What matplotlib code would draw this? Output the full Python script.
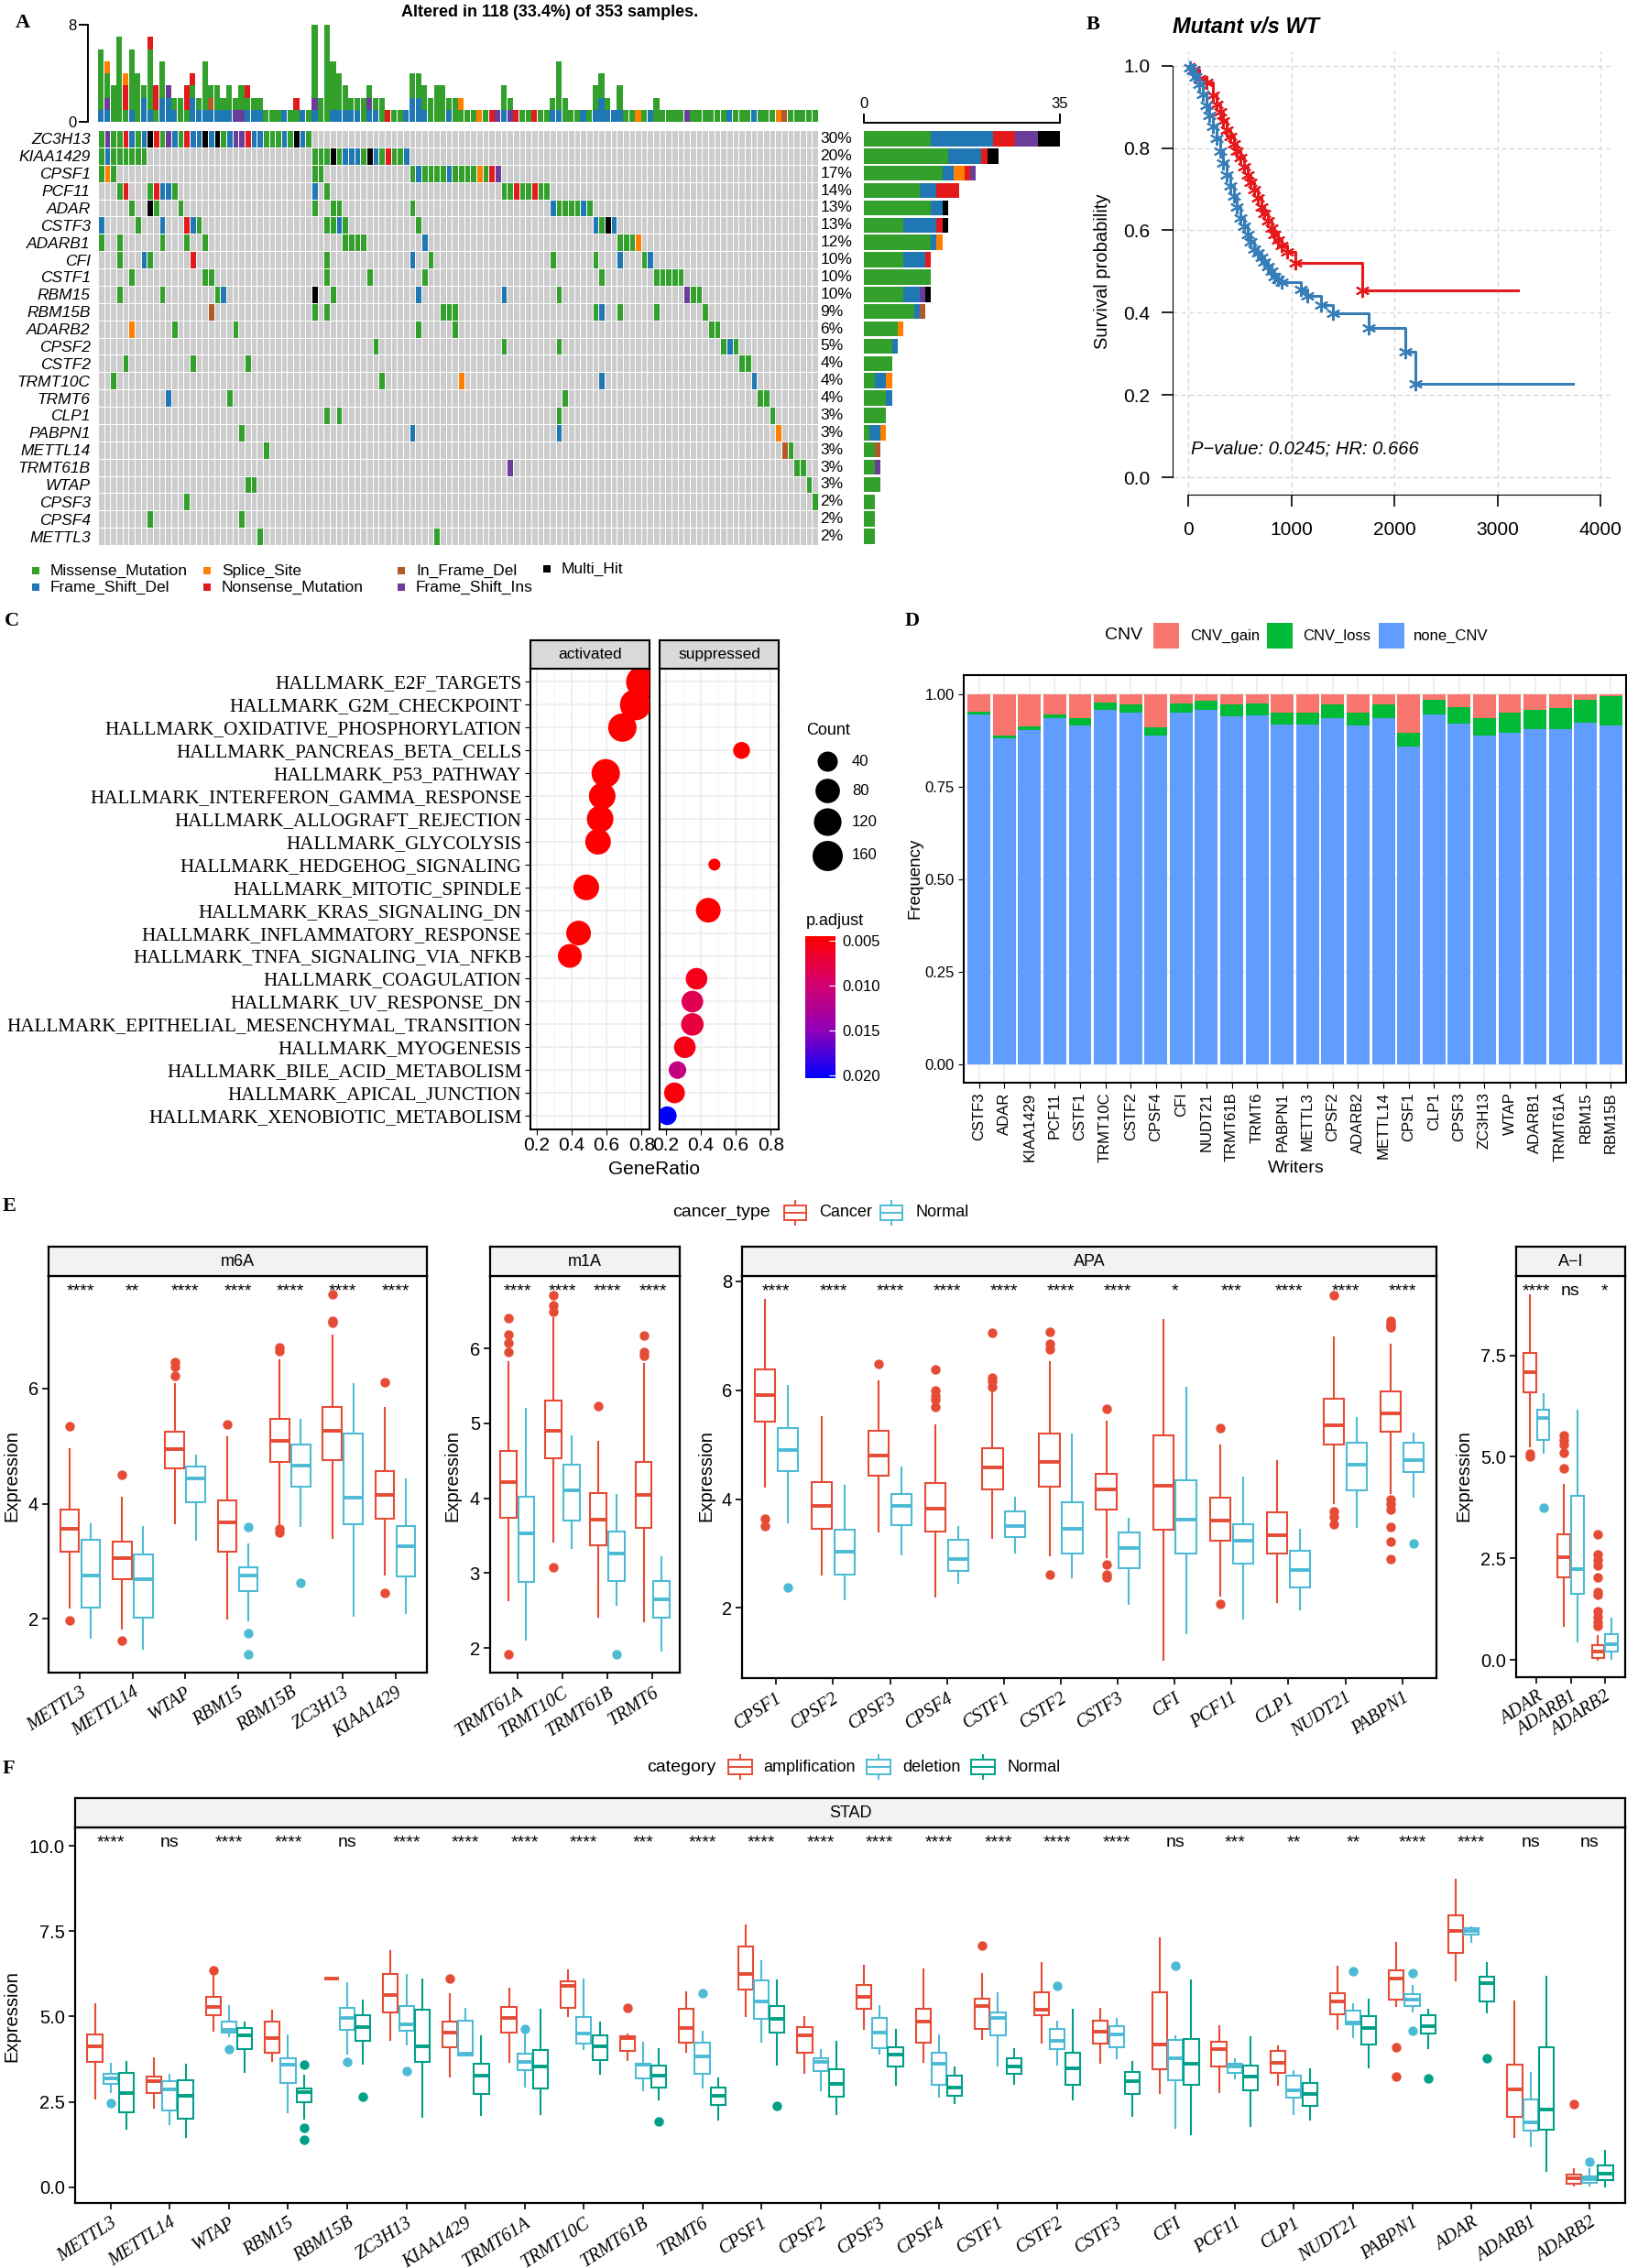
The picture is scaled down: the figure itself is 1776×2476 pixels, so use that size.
import numpy as np
import matplotlib
matplotlib.use("Agg")
import matplotlib.pyplot as plt
from matplotlib.colors import ListedColormap, LinearSegmentedColormap, Normalize
from matplotlib.patches import Rectangle
from matplotlib.cm import ScalarMappable
from matplotlib import transforms

plt.rcParams['font.family'] = ['Liberation Sans', 'DejaVu Sans']
SERIF = ['Liberation Serif', 'DejaVu Serif']

# ---------------- A: oncoplot data ----------------
n_total = 353
n_samples = 118
onco_genes = ['ZC3H13', 'KIAA1429', 'CPSF1', 'PCF11', 'ADAR', 'CSTF3', 'ADARB1', 'CFI', 'CSTF1',
              'RBM15', 'RBM15B', 'ADARB2', 'CPSF2', 'CSTF2', 'TRMT10C', 'TRMT6', 'CLP1', 'PABPN1',
              'METTL14', 'TRMT61B', 'WTAP', 'CPSF3', 'CPSF4', 'METTL3']
# "start:cells" segments, '.' = not mutated
onco_cells = {
    'ZC3H13': '0:GPGGRBGBKRGPBGRBBKBKGBPPRBBGGGBGKBG',
    'KIAA1429': '0:GBGGGGGG 35:GGGKGBBBGKBGRGGB',
    'CPSF1': '0:GOG 35:GG 51:GBGGGGBGGGGOGRP',
    'PCF11': '3:GR 8:GRBBG 35:B.G 66:GGRGGRGG',
    'ADAR': '5:G 8:KG 13:G 35:G 38:GG 51:G 74:BGGGGBG',
    'CSTF3': '0:B 6:G 10:B 14:RBG 37:GGBG 52:G 81:BGKB',
    'ADARB1': '0:G 3:G 10:G 14:G 17:G 40:GGGG 53:B 85:GGGO',
    'CFI': '3:G 7:BG 15:R 37:G 51:B 54:G 74:G 81:G 85:B 89:GB',
    'CSTF1': '5:G 17:GG 37:G 44:G 53:G 82:G 91:GGGGG',
    'RBM15': '3:G 10:G 19:GB 35:K 38:G 52:B 66:B 75:G 96:PGG',
    'RBM15B': '18:N 35:G.G 56:GGG 81:GB 85:G 91:G 99:G',
    'ADARB2': '5:O 12:G 22:G 52:G 58:G 100:GG',
    'CPSF2': '45:G 66:G 75:G 102:GBG',
    'CSTF2': '4:G 15:G 24:G 105:GG',
    'TRMT10C': '2:G 46:G 59:O 82:B 107:B',
    'TRMT6': '11:B 21:G 76:G 108:GG',
    'CLP1': '37:G 39:G 75:G 110:G',
    'PABPN1': '23:G 51:B 75:B 111:O',
    'METTL14': '27:G 112:NG',
    'TRMT61B': '67:P 114:GG',
    'WTAP': '24:GG 116:G',
    'CPSF3': '14:G 117:G',
    'CPSF4': '8:G 23:G',
    'METTL3': '26:G 55:G',
}
# variants per sample, stacked bottom -> top
tmb_stack = [
    "BGGGGG", "BPGGO", "GGG", "GGGGGGG", "GRRO", "BGGGGG", "GGGG", "BBG", "BGGGGGR", "GRR",
    "BBGGG", "BBP", "BG", "GG", "GRR", "BBGR", "BG", "BGGGG", "BNG", "BGG",
    "BG", "BGG", "PG", "PGG", "BGR", "BG", "BG", "G", "G", "G",
    "B", "G", "GR", "B", "G", "BPGGGGGG", "GG", "GGGGGGGG", "BGGGG", "BGGG",
    "BGG", "BG", "BG", "GG", "BPG", "BG", "GG", "R", "G", "G",
    "B", "BBGG", "BBGG", "BGG", "GG", "GGG", "GGG", "BG", "GG", "GO",
    "G", "G", "O", "G", "R", "P", "BGG", "PG", "R", "G",
    "G", "R", "G", "G", "BG", "BGGGG", "GG", "G", "G", "B",
    "G", "BGG", "BBGG", "BG", "B", "BGG", "G", "G", "O", "G",
    "B", "GG", "G", "G", "G", "G", "P", "G", "G", "G",
    "G", "G", "G", "B", "G", "G", "G", "B", "G", "G",
    "G", "O", "N", "G", "G", "G", "G", "G",
]
mut_names = {'G': 'Missense_Mutation', 'B': 'Frame_Shift_Del', 'O': 'Splice_Site',
             'R': 'Nonsense_Mutation', 'N': 'In_Frame_Del', 'P': 'Frame_Shift_Ins', 'K': 'Multi_Hit'}
mut_colors = {'G': '#33A02C', 'B': '#1F78B4', 'O': '#FF7F00', 'R': '#E31A1C',
              'N': '#B15928', 'P': '#6A3D9A', 'K': '#000000'}

# ---------------- B: survival ----------------
mut_time = [0, 50, 110, 176, 242, 280, 310, 340, 375, 410, 442, 475, 508, 540, 574, 607, 640, 673,
            707, 740, 773, 806, 840, 873, 906, 956, 1040, 1690]
mut_surv = [1.0, 0.99, 0.968, 0.959, 0.929, 0.905, 0.887, 0.866, 0.844, 0.827, 0.81, 0.793, 0.776,
            0.755, 0.734, 0.717, 0.70, 0.678, 0.657, 0.64, 0.623, 0.606, 0.589, 0.576, 0.563, 0.548,
            0.521, 0.454]
mut_end = 3200
wt_time = [0, 20, 43, 75, 110, 143, 176, 209, 242, 275, 309, 342, 375, 408, 442, 475, 508, 541, 574,
           607, 640, 673, 707, 740, 773, 806, 840, 873, 906, 1089, 1155, 1288, 1404, 1753, 2101, 2201]
wt_surv = [1.0, 0.995, 0.989, 0.972, 0.955, 0.93, 0.904, 0.879, 0.853, 0.823, 0.793, 0.763, 0.734,
           0.708, 0.683, 0.657, 0.631, 0.61, 0.589, 0.572, 0.555, 0.545, 0.534, 0.523, 0.512, 0.50,
           0.487, 0.48, 0.474, 0.457, 0.44, 0.419, 0.399, 0.363, 0.304, 0.227]
wt_end = 3730

# ---------------- C: GSEA dot plot ----------------
pathways = ['HALLMARK_E2F_TARGETS', 'HALLMARK_G2M_CHECKPOINT', 'HALLMARK_OXIDATIVE_PHOSPHORYLATION',
            'HALLMARK_PANCREAS_BETA_CELLS', 'HALLMARK_P53_PATHWAY', 'HALLMARK_INTERFERON_GAMMA_RESPONSE',
            'HALLMARK_ALLOGRAFT_REJECTION', 'HALLMARK_GLYCOLYSIS', 'HALLMARK_HEDGEHOG_SIGNALING',
            'HALLMARK_MITOTIC_SPINDLE', 'HALLMARK_KRAS_SIGNALING_DN', 'HALLMARK_INFLAMMATORY_RESPONSE',
            'HALLMARK_TNFA_SIGNALING_VIA_NFKB', 'HALLMARK_COAGULATION', 'HALLMARK_UV_RESPONSE_DN',
            'HALLMARK_EPITHELIAL_MESENCHYMAL_TRANSITION', 'HALLMARK_MYOGENESIS',
            'HALLMARK_BILE_ACID_METABOLISM', 'HALLMARK_APICAL_JUNCTION', 'HALLMARK_XENOBIOTIC_METABOLISM']
direction = ['activated', 'activated', 'activated', 'suppressed', 'activated', 'activated', 'activated',
             'activated', 'suppressed', 'activated', 'suppressed', 'activated', 'activated', 'suppressed',
             'suppressed', 'suppressed', 'suppressed', 'suppressed', 'suppressed', 'suppressed']
gene_ratio = [0.80, 0.765, 0.69, 0.633, 0.595, 0.575, 0.563, 0.551, 0.478, 0.484, 0.443, 0.44, 0.39,
              0.376, 0.352, 0.352, 0.309, 0.267, 0.25, 0.209]
set_count = [175, 175, 131, 21, 131, 106, 106, 94, 10, 94, 83, 83, 73, 52, 52, 60, 52, 24, 45, 30]
p_adjust = [0.004, 0.004, 0.004, 0.004, 0.004, 0.004, 0.004, 0.004, 0.004, 0.004, 0.004, 0.004, 0.004,
            0.0058, 0.0085, 0.0075, 0.0055, 0.0112, 0.005, 0.0203]
count_breaks = [40, 80, 120, 160]
padj_breaks = [0.005, 0.010, 0.015, 0.020]

# ---------------- D: CNV frequency ----------------
writers = ['CSTF3', 'ADAR', 'KIAA1429', 'PCF11', 'CSTF1', 'TRMT10C', 'CSTF2', 'CPSF4', 'CFI', 'NUDT21',
           'TRMT61B', 'TRMT6', 'PABPN1', 'METTL3', 'CPSF2', 'ADARB2', 'METTL14', 'CPSF1', 'CLP1', 'CPSF3',
           'ZC3H13', 'WTAP', 'ADARB1', 'TRMT61A', 'RBM15', 'RBM15B']
cnv_none = [0.944, 0.880, 0.902, 0.934, 0.915, 0.956, 0.951, 0.888, 0.951, 0.956, 0.941, 0.942, 0.918,
            0.918, 0.936, 0.915, 0.934, 0.858, 0.946, 0.920, 0.888, 0.895, 0.904, 0.904, 0.923, 0.915]
cnv_loss = [0.008, 0.007, 0.011, 0.010, 0.019, 0.021, 0.021, 0.023, 0.023, 0.025, 0.031, 0.032, 0.031,
            0.033, 0.036, 0.036, 0.038, 0.037, 0.039, 0.045, 0.048, 0.054, 0.054, 0.058, 0.062, 0.079]

# ---------------- E: expression cancer vs normal (whislo, q1, med, q3, whishi) ----------------
m6a_genes = ['METTL3', 'METTL14', 'WTAP', 'RBM15', 'RBM15B', 'ZC3H13', 'KIAA1429']
m6a_cancer = [(2.20, 3.17, 3.56, 3.90, 4.95), (1.83, 2.69, 3.06, 3.34, 4.10), (3.66, 4.61, 4.94, 5.25, 6.07),
              (2.00, 3.17, 3.67, 4.05, 5.15), (3.64, 4.73, 5.09, 5.47, 6.49), (3.40, 4.75, 5.26, 5.68, 6.91),
              (2.77, 3.74, 4.16, 4.57, 5.66)]
m6a_cancer_out = [[5.35, 1.97], [4.50, 1.63], [6.46, 6.37, 6.22], [5.38], [6.71, 6.65, 3.56, 3.50],
                  [7.63, 7.17, 7.14], [6.11, 2.46]]
m6a_normal = [(1.68, 2.20, 2.75, 3.37, 3.65), (1.49, 2.02, 2.69, 3.12, 3.60), (3.37, 4.03, 4.44, 4.65, 4.83),
              (1.98, 2.49, 2.75, 2.89, 3.29), (3.62, 4.29, 4.66, 5.03, 5.46), (2.06, 3.64, 4.10, 5.21, 6.07),
              (2.11, 2.74, 3.26, 3.62, 4.42)]
m6a_normal_out = [[], [], [], [3.59, 1.75, 1.38], [2.63], [], []]
m6a_sig = ['****', '**', '****', '****', '****', '****', '****']

m1a_genes = ['TRMT61A', 'TRMT10C', 'TRMT61B', 'TRMT6']
m1a_cancer = [(2.64, 3.74, 4.21, 4.63, 5.82), (3.42, 4.53, 4.90, 5.30, 6.41), (2.42, 3.37, 3.71, 4.07, 4.76),
              (2.36, 3.60, 4.04, 4.49, 5.79)]
m1a_cancer_out = [[6.41, 6.19, 6.08, 5.96, 1.91], [6.71, 6.58, 6.49, 3.08], [5.23], [6.17, 5.96, 5.91]]
m1a_normal = [(2.11, 2.88, 3.53, 4.02, 5.19), (3.33, 3.70, 4.10, 4.45, 4.83), (2.57, 2.90, 3.26, 3.55, 4.04),
              (1.96, 2.40, 2.65, 2.89, 3.21)]
m1a_normal_out = [[], [], [1.92], []]
m1a_sig = ['****', '****', '****', '****']

apa_genes = ['CPSF1', 'CPSF2', 'CPSF3', 'CPSF4', 'CSTF1', 'CSTF2', 'CSTF3', 'CFI', 'PCF11', 'CLP1',
             'NUDT21', 'PABPN1']
apa_cancer = [(4.23, 5.42, 5.92, 6.38, 7.67), (2.61, 3.46, 3.87, 4.31, 5.51), (3.41, 4.43, 4.80, 5.25, 6.16),
              (2.20, 3.40, 3.82, 4.30, 5.36), (3.29, 4.18, 4.58, 4.94, 6.03), (2.96, 4.22, 4.68, 5.20, 6.52),
              (2.93, 3.80, 4.18, 4.47, 5.42), (1.04, 3.44, 4.25, 5.17, 7.29), (2.23, 3.23, 3.61, 4.02, 4.98),
              (2.11, 3.00, 3.34, 3.75, 4.70), (3.93, 5.00, 5.36, 5.84, 6.97), (4.11, 5.23, 5.57, 5.98, 6.84)]
apa_cancer_out = [[3.64, 3.51], [], [6.48], [6.38, 6.0, 5.9, 5.82, 5.70], [7.05, 6.23, 6.16, 6.07],
                  [7.08, 6.85, 6.75, 2.62], [5.66, 2.79, 2.62, 2.56], [], [5.31, 2.07], [],
                  [7.75, 3.77, 3.67, 3.53], [7.28, 7.23, 7.18, 7.15, 4.0, 3.9, 3.8, 3.49, 3.21, 2.89]]
apa_normal = [(3.57, 4.51, 4.90, 5.31, 6.08), (2.15, 2.62, 3.03, 3.44, 4.25), (2.98, 3.52, 3.88, 4.09, 4.59),
              (2.46, 2.68, 2.90, 3.25, 3.49), (3.02, 3.30, 3.51, 3.77, 4.03), (2.56, 3.00, 3.46, 3.95, 5.18),
              (2.07, 2.73, 3.10, 3.38, 3.64), (1.54, 3.00, 3.63, 4.35, 6.05), (1.80, 2.82, 3.23, 3.54, 4.39),
              (1.97, 2.38, 2.70, 3.05, 3.44), (3.49, 4.16, 4.64, 5.03, 5.49), (4.05, 4.49, 4.72, 5.03, 5.20)]
apa_normal_out = [[2.38], [], [], [], [], [], [], [], [], [], [], [3.19]]
apa_sig = ['****', '****', '****', '****', '****', '****', '****', '*', '***', '****', '****', '****']

ai_genes = ['ADAR', 'ADARB1', 'ADARB2']
ai_cancer = [(5.25, 6.58, 7.08, 7.56, 8.98), (0.85, 2.04, 2.54, 3.09, 4.32), (0.0, 0.06, 0.21, 0.37, 0.60)]
ai_cancer_out = [[5.08, 5.0], [5.53, 5.41, 5.30, 5.10, 4.71],
                 [3.09, 2.60, 2.47, 2.34, 2.04, 1.68, 1.60, 1.20, 1.07, 0.94, 0.85]]
ai_normal = [(5.09, 5.41, 5.96, 6.16, 6.55), (0.47, 1.64, 2.25, 4.05, 6.13), (0.02, 0.21, 0.39, 0.63, 1.03)]
ai_normal_out = [[3.75], [], []]
ai_sig = ['****', 'ns', '*']

# ---------------- F: expression by CNV category ----------------
f_genes = ['METTL3', 'METTL14', 'WTAP', 'RBM15', 'RBM15B', 'ZC3H13', 'KIAA1429', 'TRMT61A', 'TRMT10C',
           'TRMT61B', 'TRMT6', 'CPSF1', 'CPSF2', 'CPSF3', 'CPSF4', 'CSTF1', 'CSTF2', 'CSTF3', 'CFI', 'PCF11',
           'CLP1', 'NUDT21', 'PABPN1', 'ADAR', 'ADARB1', 'ADARB2']
f_amp = [(2.61, 3.67, 4.12, 4.48, 5.35), (2.34, 2.77, 3.11, 3.25, 3.79), (4.59, 5.05, 5.28, 5.58, 6.22),
         (3.70, 3.94, 4.38, 4.86, 5.17), (6.12, 6.12, 6.12, 6.12, 6.12), (4.32, 5.13, 5.63, 6.24, 6.93),
         (3.23, 4.10, 4.53, 4.86, 5.67), (3.67, 4.53, 4.96, 5.28, 5.82), (5.02, 5.25, 5.89, 6.02, 6.35),
         (3.72, 4.00, 4.36, 4.41, 4.49), (3.97, 4.24, 4.66, 5.23, 5.72), (5.00, 5.79, 6.24, 7.05, 7.67),
         (3.35, 3.95, 4.46, 4.68, 4.99), (4.64, 5.23, 5.58, 5.92, 6.48), (3.67, 4.24, 4.86, 5.23, 6.38),
         (4.33, 4.64, 5.30, 5.52, 6.24), (4.24, 5.03, 5.20, 5.72, 6.56), (3.65, 4.22, 4.56, 4.89, 5.23),
         (2.76, 3.46, 4.19, 5.71, 7.30), (2.79, 3.53, 4.04, 4.27, 4.73), (3.01, 3.36, 3.65, 3.99, 4.12),
         (4.64, 5.08, 5.45, 5.69, 6.46), (5.30, 5.50, 6.11, 6.35, 7.15), (6.07, 6.86, 7.50, 7.96, 9.00),
         (1.48, 2.07, 2.87, 3.58, 5.45), (0.05, 0.10, 0.26, 0.37, 0.52)]
f_amp_out = [[], [], [6.36], [], [], [], [6.12], [], [], [5.25], [], [], [], [], [], [7.07], [], [], [], [],
             [], [], [4.09, 3.25], [], [], [2.44]]
f_del = [(2.79, 3.03, 3.18, 3.31, 3.63), (1.85, 2.25, 2.86, 3.11, 3.30), (4.41, 4.53, 4.61, 4.84, 5.30),
         (2.20, 3.06, 3.58, 3.77, 4.44), (3.92, 4.61, 4.96, 5.25, 5.97), (4.19, 4.59, 4.78, 5.30, 6.21),
         (3.87, 3.87, 3.92, 4.89, 5.22), (2.96, 3.43, 3.67, 3.90, 4.59), (4.04, 4.20, 4.51, 4.99, 6.09),
         (2.84, 3.20, 3.58, 3.63, 4.24), (2.91, 3.33, 3.82, 4.24, 4.56), (4.25, 4.93, 5.45, 6.06, 6.63),
         (2.84, 3.40, 3.68, 3.79, 4.02), (3.92, 4.07, 4.54, 4.96, 5.30), (2.64, 2.99, 3.61, 3.94, 4.44),
         (3.56, 4.46, 4.96, 5.12, 5.69), (3.60, 4.04, 4.29, 4.63, 4.86), (3.77, 4.10, 4.48, 4.71, 4.93),
         (1.73, 3.13, 3.77, 4.31, 4.41), (3.20, 3.35, 3.53, 3.61, 3.74), (2.13, 2.62, 2.84, 3.26, 3.40),
         (4.39, 4.76, 4.83, 5.18, 5.35), (5.15, 5.32, 5.50, 5.65, 5.89), (7.19, 7.39, 7.52, 7.60, 7.62),
         (1.21, 1.66, 1.90, 2.56, 3.35), (0.06, 0.13, 0.25, 0.31, 0.52)]
f_del_out = [[2.46], [], [4.05], [], [3.66], [3.40], [], [4.63], [], [], [5.69], [], [], [], [], [], [5.91],
             [], [6.48], [], [], [6.33], [6.27, 4.59], [], [], [0.75]]
f_norm = [(1.70, 2.20, 2.76, 3.36, 3.66), (1.48, 2.02, 2.69, 3.13, 3.60), (3.38, 4.04, 4.44, 4.66, 4.83),
          (2.00, 2.49, 2.79, 2.89, 3.28), (3.61, 4.29, 4.68, 5.03, 5.47), (2.05, 3.66, 4.12, 5.20, 6.09),
          (2.12, 2.74, 3.26, 3.61, 4.41), (2.13, 2.89, 3.55, 4.02, 5.20), (3.33, 3.72, 4.12, 4.44, 4.83),
          (2.56, 2.92, 3.28, 3.56, 4.05), (1.97, 2.42, 2.67, 2.91, 3.20), (3.58, 4.53, 4.93, 5.32, 6.07),
          (2.15, 2.64, 3.03, 3.45, 4.25), (2.99, 3.53, 3.89, 4.10, 4.61), (2.46, 2.69, 2.91, 3.26, 3.51),
          (3.03, 3.31, 3.55, 3.79, 4.05), (2.56, 3.01, 3.48, 3.95, 5.20), (2.08, 2.74, 3.11, 3.38, 3.66),
          (1.56, 3.01, 3.63, 4.34, 6.07), (1.80, 2.84, 3.25, 3.56, 4.39), (1.97, 2.39, 2.72, 3.06, 3.46),
          (3.51, 4.17, 4.66, 5.02, 5.50), (4.07, 4.51, 4.73, 5.03, 5.20), (5.12, 5.43, 5.97, 6.16, 6.58),
          (0.49, 1.68, 2.27, 4.09, 6.16), (0.03, 0.22, 0.40, 0.65, 1.06)]
f_norm_out = [[], [], [], [3.58, 1.75, 1.38], [2.64], [], [], [], [], [1.93], [], [2.39], [], [], [], [], [],
              [], [], [], [], [], [3.20], [3.77], [], []]
f_sig = ['****', 'ns', '****', '****', 'ns', '****', '****', '****', '****', '***', '****', '****', '****',
         '****', '****', '****', '****', '****', 'ns', '***', '**', '**', '****', '****', 'ns', 'ns']

# ================= figure =================
W, H = 1776, 2476
fig = plt.figure(figsize=(W / 100, H / 100), dpi=100)
ov = fig.add_axes([0, 0, 1, 1])
ov.set_xlim(0, W)
ov.set_ylim(H, 0)
ov.axis('off')


def add_ax(x0, y0, x1, y1):
    return fig.add_axes([x0 / W, 1 - y1 / H, (x1 - x0) / W, (y1 - y0) / H])


def panel_label(x, y, s):
    ov.text(x, y, s, family=SERIF, weight='bold', fontsize=16, ha='left', va='center')


C_RED, C_CYAN, C_TEAL = '#E64B35', '#4DBBD5', '#00A087'

# ---------- A ----------
panel_label(17, 25, 'A')
n_alt = n_samples
ov.text(600, 14, f'Altered in {n_alt} ({100 * n_alt / n_total:.1f}%) of {n_total} samples.',
        ha='center', va='center', weight='bold', fontsize=13)

ax_top = add_ax(107, 27, 893, 133)
stack_pos = {c: ([], []) for c in mut_colors}
for i, s in enumerate(tmb_stack):
    for j, ch in enumerate(s):
        stack_pos[ch][0].append(i + 0.5)
        stack_pos[ch][1].append(j)
for ch, (xx, yy) in stack_pos.items():
    if xx:
        ax_top.bar(xx, 1, bottom=yy, width=0.92, color=mut_colors[ch], linewidth=0)
ax_top.set_xlim(0, n_samples)
ax_top.set_ylim(0, 8)
for s in ['top', 'right', 'bottom']:
    ax_top.spines[s].set_visible(False)
ax_top.spines['left'].set_position(('outward', 8))
ax_top.spines['left'].set_linewidth(1.4)
ax_top.set_yticks([0, 8])
ax_top.set_xticks([])
ax_top.tick_params(axis='y', length=7, width=1.4, labelsize=12, pad=2)

codes = '.GBORNPK'
grid = np.zeros((len(onco_genes), n_samples), dtype=int)
for r, g in enumerate(onco_genes):
    for seg in onco_cells[g].split():
        start, cells = seg.split(':')
        for k, ch in enumerate(cells):
            if ch != '.':
                grid[r, int(start) + k] = codes.index(ch)
cmap_mut = ListedColormap(['#CCCCCC'] + [mut_colors[c] for c in codes[1:]])
ax_m = add_ax(107, 142, 893, 595)
ax_m.pcolormesh(np.arange(n_samples + 1), np.arange(len(onco_genes) + 1), grid, cmap=cmap_mut,
                vmin=-0.5, vmax=7.5, edgecolors='white', linewidth=0.6)
ax_m.set_xlim(0, n_samples)
ax_m.set_ylim(len(onco_genes), 0)
ax_m.set_xticks([])
ax_m.set_yticks(np.arange(len(onco_genes)) + 0.5)
ax_m.set_yticklabels(onco_genes, style='italic', fontsize=12.5)
ax_m.tick_params(axis='y', length=0, pad=6)
for s in ax_m.spines.values():
    s.set_visible(False)
row_counts = (grid > 0).sum(axis=1)
tr = transforms.blended_transform_factory(ax_m.transAxes, ax_m.transData)
for r, n in enumerate(row_counts):
    ax_m.text(1.003, r + 0.5, f'{round(100 * n / n_samples)}%', transform=tr, ha='left', va='center',
              fontsize=12.5)

ax_s = add_ax(943, 142, 1157, 595)
left = np.zeros(len(onco_genes))
for ch in 'GBORPNK':
    vals = (grid == codes.index(ch)).sum(axis=1)
    ax_s.barh(np.arange(len(onco_genes)) + 0.5, vals, left=left, height=0.88, color=mut_colors[ch],
              linewidth=0)
    left += vals
ax_s.set_xlim(0, 35)
ax_s.set_ylim(len(onco_genes), 0)
ax_s.xaxis.tick_top()
ax_s.set_xticks([0, 35])
ax_s.set_yticks([])
for s in ['bottom', 'left', 'right']:
    ax_s.spines[s].set_visible(False)
ax_s.spines['top'].set_position(('outward', 6))
ax_s.spines['top'].set_linewidth(1.4)
ax_s.tick_params(axis='x', length=7, width=1.4, labelsize=12, pad=2)

leg_pos = {'G': (39, 623), 'B': (39, 641), 'O': (226, 623), 'R': (226, 641), 'N': (438, 623),
           'P': (438, 641), 'K': (597, 621)}
for ch, (lx, ly) in leg_pos.items():
    ov.add_patch(Rectangle((lx - 4, ly - 4), 8, 8, color=mut_colors[ch], lw=0))
    ov.text(lx + 16, ly, mut_names[ch], ha='left', va='center', fontsize=12.5)

# ---------- B ----------
panel_label(1186, 27, 'B')
ov.text(1280, 29, 'Mutant v/s WT', weight='bold', style='italic', fontsize=17, ha='left', va='center')
axB = add_ax(1280, 55.5, 1762, 540)
axB.set_xlim(-150, 4130)
axB.set_ylim(-0.042, 1.036)
for s in ['top', 'right']:
    axB.spines[s].set_visible(False)
axB.spines['left'].set_bounds(0, 1)
axB.spines['bottom'].set_bounds(0, 4000)
axB.set_xticks([0, 1000, 2000, 3000, 4000])
axB.set_yticks([0, 0.2, 0.4, 0.6, 0.8, 1.0])
axB.set_yticklabels(['0.0', '0.2', '0.4', '0.6', '0.8', '1.0'])
axB.tick_params(axis='both', length=9, width=1.2, labelsize=15)
axB.tick_params(axis='y', pad=9)
axB.tick_params(axis='x', pad=12)
axB.grid(True, ls=(0, (4, 3)), color='#D5D5D5', lw=0.9)
c_mut, c_wt = '#E41A1C', '#377EB8'
axB.step(mut_time + [mut_end], mut_surv + [mut_surv[-1]], where='post', color=c_mut, lw=2.2)
axB.plot(mut_time[1:], mut_surv[1:], ls='none', marker=(6, 2, 0), ms=11, mew=1.5, color=c_mut)
axB.step(wt_time + [wt_end], wt_surv + [wt_surv[-1]], where='post', color=c_wt, lw=2.2)
axB.plot(wt_time[1:], wt_surv[1:], ls='none', marker=(6, 2, 0), ms=11, mew=1.5, color=c_wt)
axB.text(30, 0.07, 'P\u2212value: 0.0245; HR: 0.666', style='italic', fontsize=14.5, ha='left', va='center')
ov.text(1203, 296, 'Survival probability', rotation=90, ha='center', va='center', fontsize=14.5)
for (lab, col, ly) in [('Mutant', c_mut, 80), ('WT', c_wt, 104)]:
    ov.plot([1633, 1672], [ly, ly], color=col, lw=2.2)
    ov.plot([1652], [ly], marker=(6, 2, 0), ms=11, mew=1.5, color=col)
    ov.text(1691, ly, lab, ha='left', va='center', fontsize=15)

# ---------- C ----------
panel_label(5, 678, 'C')
cmap_p = LinearSegmentedColormap.from_list('padj', ['#FF0000', '#D4006E', '#9000B8', '#0000FF'])
norm_p = Normalize(0.0045, 0.0203)


def count_to_px(c):
    return 13.1 + 1.625 * np.sqrt(np.maximum(np.asarray(c, float) - 10, 0))


facet_C = {'activated': (579, 709), 'suppressed': (720, 850)}
for g, (x0, x1) in facet_C.items():
    ax = add_ax(x0, 729.5, x1, 1233)
    idx = [i for i, d in enumerate(direction) if d == g]
    ax.scatter([gene_ratio[i] for i in idx], idx,
               s=(count_to_px([set_count[i] for i in idx]) * 0.72) ** 2,
               c=[p_adjust[i] for i in idx], cmap=cmap_p, norm=norm_p, linewidths=0, zorder=3)
    ax.set_xlim(0.165, 0.845)
    ax.set_ylim(len(pathways) - 0.4, -0.6)
    ax.set_xticks([0.2, 0.4, 0.6, 0.8])
    ax.set_xticks([0.3, 0.5, 0.7], minor=True)
    ax.set_xticklabels(['0.2', '0.4', '0.6', '0.8'])
    ax.set_yticks(range(len(pathways)))
    ax.grid(True, which='major', color='#EBEBEB', lw=1.1, zorder=0)
    ax.grid(True, which='minor', axis='x', color='#F2F2F2', lw=0.6, zorder=0)
    ax.set_axisbelow(True)
    ax.tick_params(axis='x', which='major', length=4, labelsize=15, pad=2)
    ax.tick_params(axis='x', which='minor', length=0)
    if g == 'activated':
        ax.set_yticklabels(pathways, family=SERIF, fontsize=15.2)
        ax.tick_params(axis='y', length=4, pad=3)
    else:
        ax.tick_params(axis='y', length=0, labelleft=False)
    for s in ax.spines.values():
        s.set_linewidth(1.5)
    st = add_ax(x0, 699, x1, 729.5)
    st.set_facecolor('#D9D9D9')
    st.set_xticks([])
    st.set_yticks([])
    for s in st.spines.values():
        s.set_linewidth(1.5)
    st.text(0.5, 0.5, g, transform=st.transAxes, ha='center', va='center', fontsize=12.5)
ov.text(714, 1276, 'GeneRatio', ha='center', va='center', fontsize=15)

ov.text(880, 798, 'Count', ha='left', va='center', fontsize=13)
for c, ly in zip(count_breaks, [831, 863, 897, 934]):
    ov.scatter([903], [ly], s=(count_to_px(c) * 0.72) ** 2, color='black', linewidths=0)
    ov.text(930, ly, str(c), ha='left', va='center', fontsize=12)
ov.text(880, 1005, 'p.adjust', ha='left', va='center', fontsize=13)
cax = add_ax(879, 1022, 912, 1177)
cb = fig.colorbar(ScalarMappable(norm=norm_p, cmap=cmap_p), cax=cax)
cb.outline.set_visible(False)
cax.invert_yaxis()
cb.set_ticks(padj_breaks)
cb.set_ticklabels([f'{v:.3f}' for v in padj_breaks])
cax.tick_params(length=5, color='white', direction='in', labelsize=12, pad=5)

# ---------- D ----------
panel_label(988, 678, 'D')
axD = add_ax(1052, 737.5, 1775, 1182)
xD = np.arange(len(writers))
none_a = np.array(cnv_none)
loss_a = np.array(cnv_loss)
gain_a = 1 - none_a - loss_a
cnv_cols = {'CNV_gain': '#F8766D', 'CNV_loss': '#00BA38', 'none_CNV': '#619CFF'}
axD.bar(xD, none_a, width=0.9, color=cnv_cols['none_CNV'], linewidth=0)
axD.bar(xD, loss_a, bottom=none_a, width=0.9, color=cnv_cols['CNV_loss'], linewidth=0)
axD.bar(xD, gain_a, bottom=none_a + loss_a, width=0.9, color=cnv_cols['CNV_gain'], linewidth=0)
axD.set_xlim(-0.6, len(writers) - 0.4)
axD.set_ylim(-0.05, 1.05)
axD.set_xticks(xD)
axD.set_xticklabels(writers, rotation=90, fontsize=12)
axD.set_yticks([0, 0.25, 0.5, 0.75, 1.0])
axD.set_yticklabels(['0.00', '0.25', '0.50', '0.75', '1.00'])
axD.tick_params(labelsize=12, length=4)
axD.grid(True, color='#EBEBEB', lw=1.1)
axD.set_axisbelow(True)
for s in axD.spines.values():
    s.set_linewidth(1.5)
ov.text(999, 959, 'Frequency', rotation=90, ha='center', va='center', fontsize=13.5)
ov.text(1415, 1276, 'Writers', ha='center', va='center', fontsize=14)
ov.text(1227, 694, 'CNV', ha='center', va='center', fontsize=14)
for (lab, kx, tx) in [('CNV_gain', 1259, 1299), ('CNV_loss', 1383, 1422), ('none_CNV', 1505, 1543)]:
    ov.add_patch(Rectangle((kx, 680), 28, 28, color=cnv_cols[lab], lw=0))
    ov.text(tx, 694, lab, ha='left', va='center', fontsize=12)


# ---------- boxplot helpers ----------
def draw_boxes(ax, stats, outs, pos, color, width):
    bx = [dict(whislo=s[0], q1=s[1], med=s[2], q3=s[3], whishi=s[4], fliers=o) for s, o in zip(stats, outs)]
    ax.bxp(bx, positions=pos, widths=width, showcaps=False, patch_artist=True, manage_ticks=False,
           boxprops=dict(facecolor='white', edgecolor=color, linewidth=1.5),
           medianprops=dict(color=color, linewidth=2.8, solid_capstyle='butt'),
           whiskerprops=dict(color=color, linewidth=1.5),
           flierprops=dict(marker='o', markerfacecolor=color, markeredgecolor=color, markersize=6.5))


def style_panel(ax, genes, ylim, yticks, ylabels, sig, sig_base_px, rect):
    x0, y0, x1, y1 = rect
    ax.set_xlim(0.4, len(genes) + 0.6)
    ax.set_ylim(*ylim)
    ax.set_xticks(np.arange(1, len(genes) + 1))
    ax.set_xticklabels(genes, rotation=33, ha='right', va='top', rotation_mode='anchor',
                       family=SERIF, style='italic', fontsize=17)
    ax.set_yticks(yticks)
    ax.set_yticklabels(ylabels)
    ax.tick_params(axis='both', length=5, width=1.2, labelsize=14.5, pad=3)
    ax.tick_params(axis='x', pad=4)
    for s in ax.spines.values():
        s.set_linewidth(1.6)
    yb = (y1 - sig_base_px) / (y1 - y0)
    trs = transforms.blended_transform_factory(ax.transData, ax.transAxes)
    for i, lab in enumerate(sig):
        ax.text(i + 1, yb, lab, transform=trs, ha='center', va='baseline', fontsize=14)


def strip(x0, y0, x1, y1, label):
    st = add_ax(x0, y0, x1, y1)
    st.set_facecolor('#F2F2F2')
    st.set_xticks([])
    st.set_yticks([])
    for s in st.spines.values():
        s.set_linewidth(1.6)
    st.text(0.5, 0.5, label, transform=st.transAxes, ha='center', va='center', fontsize=13)


def box_key(x0, yc, w, color):
    ov.add_patch(Rectangle((x0, yc - 8), w, 16, fill=False, ec=color, lw=1.4))
    ov.plot([x0, x0 + w], [yc, yc], color=color, lw=1.4)
    ov.plot([x0 + w / 2, x0 + w / 2], [yc - 13, yc - 8], color=color, lw=1.4)
    ov.plot([x0 + w / 2, x0 + w / 2], [yc + 8, yc + 13], color=color, lw=1.4)


# ---------- E ----------
panel_label(3, 1317, 'E')
ov.text(841, 1324, 'cancer_type', ha='right', va='center', fontsize=14)
box_key(856, 1324, 24, C_RED)
ov.text(894, 1324, 'Cancer', ha='left', va='center', fontsize=13)
box_key(961, 1324, 24, C_CYAN)
ov.text(999, 1324, 'Normal', ha='left', va='center', fontsize=13)

facets_E = [
    ('m6A', m6a_genes, m6a_cancer, m6a_cancer_out, m6a_normal, m6a_normal_out, m6a_sig,
     (53, 1393, 466, 1826), (1.07, 7.95), [2, 4, 6], ['2', '4', '6'], 13),
    ('m1A', m1a_genes, m1a_cancer, m1a_cancer_out, m1a_normal, m1a_normal_out, m1a_sig,
     (535, 1393, 742, 1826), (1.67, 6.97), [2, 3, 4, 5, 6], ['2', '3', '4', '5', '6'], 494),
    ('APA', apa_genes, apa_cancer, apa_cancer_out, apa_normal, apa_normal_out, apa_sig,
     (810, 1393, 1568, 1832), (0.71, 8.1), [2, 4, 6, 8], ['2', '4', '6', '8'], 771),
    ('A\u2212I', ai_genes, ai_cancer, ai_cancer_out, ai_normal, ai_normal_out, ai_sig,
     (1655, 1393, 1774, 1831), (-0.42, 9.45), [0, 2.5, 5, 7.5], ['0.0', '2.5', '5.0', '7.5'], 1598),
]
for name, genes, cs, co, ns_, no, sig, rect, ylim, yt, ytl, ylx in facets_E:
    ax = add_ax(*rect)
    pos = np.arange(1, len(genes) + 1)
    draw_boxes(ax, cs, co, pos - 0.2, C_RED, 0.36)
    draw_boxes(ax, ns_, no, pos + 0.2, C_CYAN, 0.36)
    style_panel(ax, genes, ylim, yt, ytl, sig, 1414, rect)
    strip(rect[0], 1361, rect[2], 1393, name)
    ov.text(ylx, 1611, 'Expression', rotation=90, ha='center', va='center', fontsize=14.5)

# ---------- F ----------
panel_label(3, 1931, 'F')
ov.text(781, 1929, 'category', ha='right', va='center', fontsize=14)
for lab, kx, tx, col in [('amplification', 795, 833, C_RED), ('deletion', 946, 985, C_CYAN),
                         ('Normal', 1060, 1099, C_TEAL)]:
    box_key(kx, 1929, 26, col)
    ov.text(tx, 1929, lab, ha='left', va='center', fontsize=13)
rectF = (82, 1995, 1774, 2405)
axF = add_ax(*rectF)
posF = np.arange(1, len(f_genes) + 1)
draw_boxes(axF, f_amp, f_amp_out, posF - 0.267, C_RED, 0.25)
draw_boxes(axF, f_del, f_del_out, posF, C_CYAN, 0.25)
draw_boxes(axF, f_norm, f_norm_out, posF + 0.267, C_TEAL, 0.25)
style_panel(axF, f_genes, (-0.46, 10.54), [0, 2.5, 5, 7.5, 10], ['0.0', '2.5', '5.0', '7.5', '10.0'],
            f_sig, 2016, rectF)
strip(82, 1963, 1774, 1995, 'STAD')
ov.text(13, 2201, 'Expression', rotation=90, ha='center', va='center', fontsize=14.5)

fig.savefig('out.png', dpi=100, facecolor='white')
